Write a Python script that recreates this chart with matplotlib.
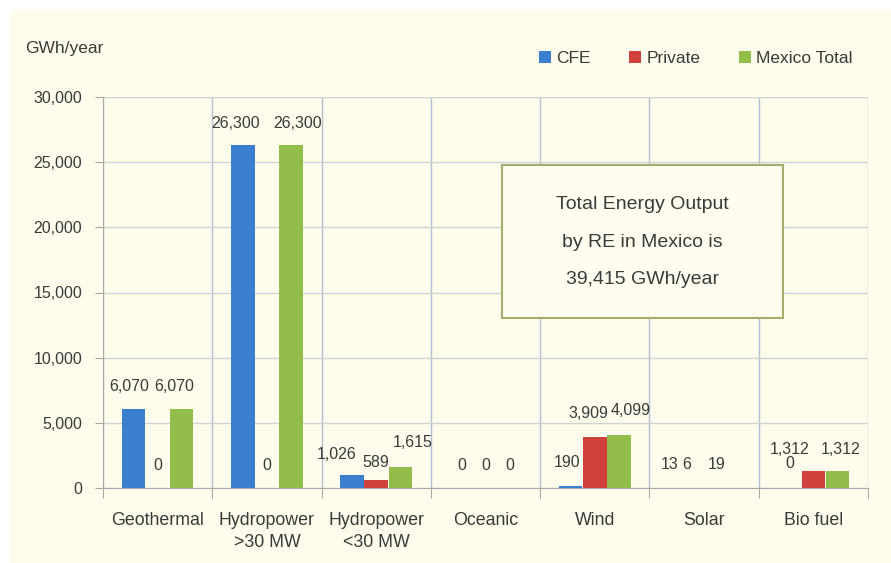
import matplotlib.pyplot as plt
import numpy as np
from matplotlib.patches import Rectangle

plt.rcParams['font.family'] = ['Liberation Sans', 'DejaVu Sans']

categories = ['Geothermal', 'Hydropower\n>30 MW', 'Hydropower\n<30 MW', 'Oceanic',
              'Wind', 'Solar', 'Bio fuel']
series_names = ['CFE', 'Private', 'Mexico Total']
cfe = [6070, 26300, 1026, 0, 190, 13, 0]
private = [0, 0, 589, 0, 3909, 6, 1312]
total = [6070, 26300, 1615, 0, 4099, 19, 1312]
yticks = [0, 5000, 10000, 15000, 20000, 25000, 30000]

colors = ['#3c7fcf', '#d0403c', '#92bd4b']
bg = '#fefcec'
txt = '#3a3a3a'

# label x nudges in pixels, the original chart shuffles some labels sideways
label_dx = [[-4, 0, -7],
            [-7, 0, 7],
            [-16, 0, 12],
            [0, 0, 0],
            [-4, -6, 12],
            [-10, -17, -11],
            [0, -24, 3]]
label_dy = [[22, 22, 22],
            [22, 22, 22],
            [20, 18, 24],
            [23, 23, 23],
            [23, 24, 24],
            [23, 23, 23],
            [24, 21, 21]]

fig = plt.figure(figsize=(8.91, 5.63), dpi=100)
fig.patch.set_facecolor(bg)
# white strips along the top and left edge of the scanned chart
fig.add_artist(Rectangle((0, 1 - 10/563), 1, 10/563, transform=fig.transFigure,
                         facecolor='white', edgecolor='none', zorder=-10))
fig.add_artist(Rectangle((0, 0), 10/891, 1, transform=fig.transFigure,
                         facecolor='white', edgecolor='none', zorder=-10))

ax = fig.add_axes([103/891, 75/563, 765/891, 391/563])
ax.set_facecolor(bg)

x = np.arange(len(categories))
w = 0.215
offs = [-0.22, 0.0, 0.22]
data = [cfe, private, total]
for k, vals in enumerate(data):
    ax.bar(x + offs[k], vals, w, color=colors[k], zorder=3, label=series_names[k])
    for i, v in enumerate(vals):
        ax.annotate(f'{v:,}', (x[i] + offs[k], v),
                    xytext=(label_dx[i][k]*0.72, label_dy[i][k]*0.72), textcoords='offset points',
                    ha='center', va='center', fontsize=11.5, color=txt, zorder=5)

ax.set_xlim(-0.5, len(categories) - 0.5)
ax.set_ylim(0, 30000)
ax.set_yticks(yticks)
ax.set_yticklabels([f'{t:,}' for t in yticks], fontsize=11.5, color=txt)
ax.yaxis.grid(True, color='#d0d2d6', linewidth=1.0, zorder=0)
ax.set_xticks(np.arange(len(categories) + 1) - 0.5)
ax.set_xticklabels([])
ax.set_xticks(x, minor=True)
ax.set_xticklabels(categories, minor=True, fontsize=12.8, color=txt, linespacing=1.45)
ax.xaxis.grid(True, which='major', color='#b3bdd4', linewidth=1.0, zorder=0)
ax.tick_params(axis='x', which='major', length=7, color='#a8a8a8', direction='out')
ax.tick_params(axis='x', which='minor', length=0, pad=17)
ax.tick_params(axis='y', length=6, color='#a8a8a8', direction='out', pad=9)
for s in ['top', 'right']:
    ax.spines[s].set_visible(False)
ax.spines['left'].set_color('#a8a8a8')
ax.spines['bottom'].set_color('#a8a8a8')
ax.axhline(30000, color='#a9b6d0', linewidth=1.5, zorder=1)

fig.text(25/891, 1 - 48/563, 'GWh/year', fontsize=12.5, color=txt, va='center')
ax.legend(loc='lower right', bbox_to_anchor=(1.0, 1.04), ncol=3, frameon=False,
          fontsize=12.5, handlelength=0.7, handleheight=0.7, handletextpad=0.3,
          columnspacing=2.2, labelcolor=txt)

# note box
ax.add_patch(Rectangle((0.5216, 0.435), 0.3674, 0.391, transform=ax.transAxes,
                       facecolor='#fefdf0', edgecolor='#a5ad6c', linewidth=1.5, zorder=6))
note_lines = ['Total Energy Output', 'by RE in Mexico is', '39,415 GWh/year']
for line, yy in zip(note_lines, [0.724, 0.629, 0.532]):
    ax.text(0.705, yy, line, transform=ax.transAxes, ha='center', va='center',
            fontsize=14, color=txt, zorder=7)

fig.savefig('out.png', dpi=100, facecolor=fig.get_facecolor())
